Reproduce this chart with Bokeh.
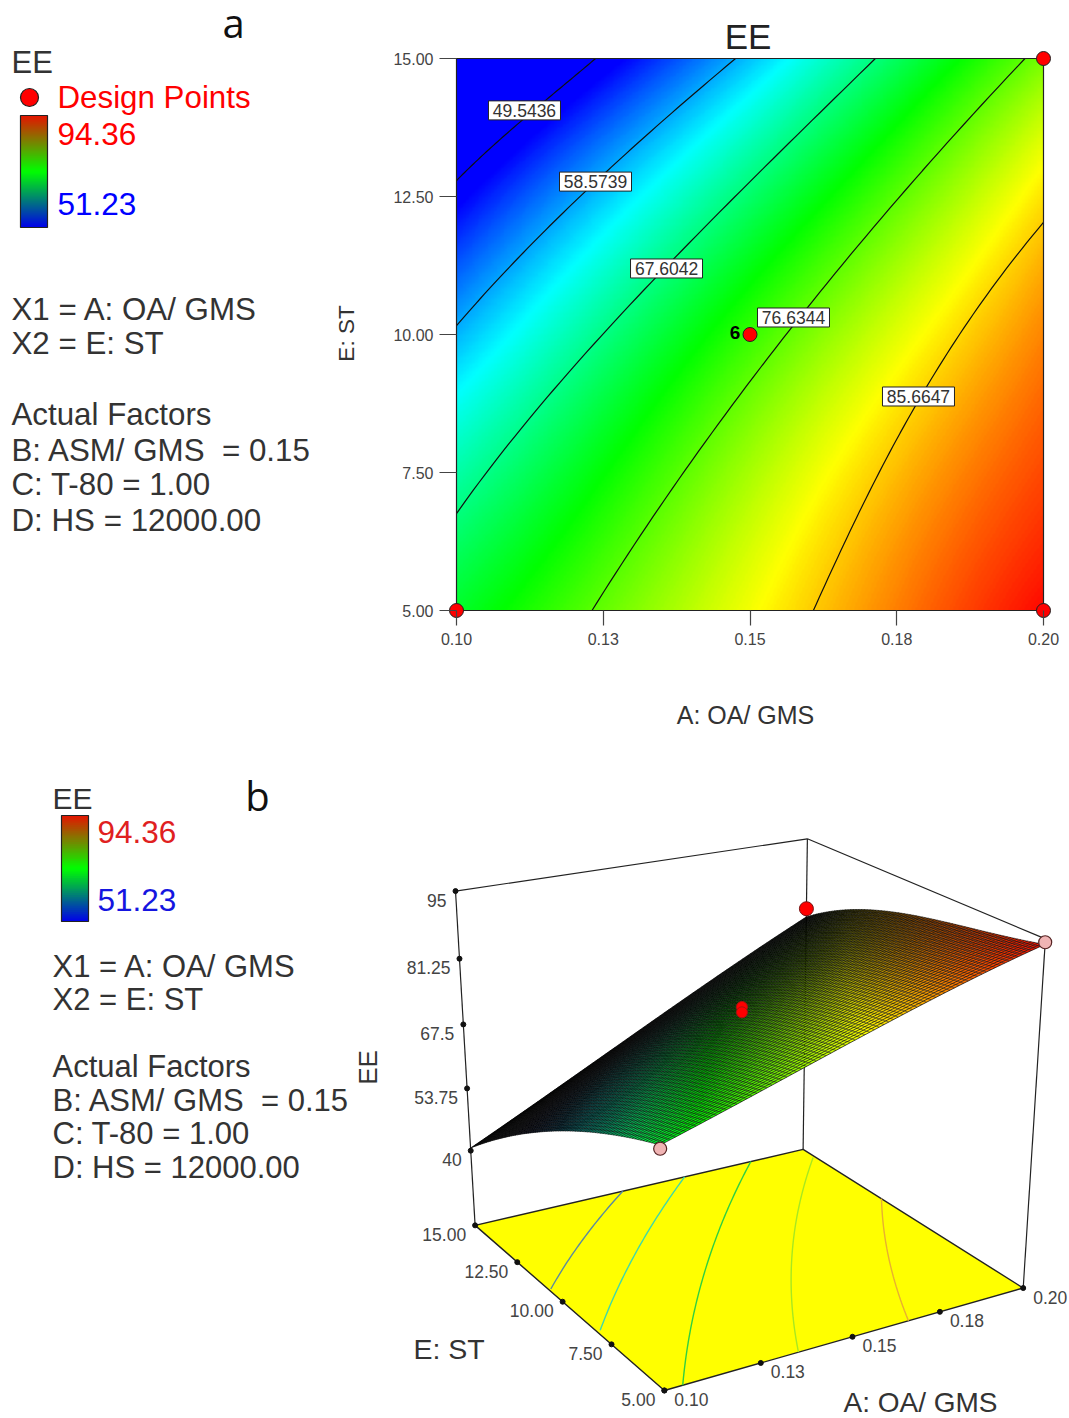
import numpy as np
from bokeh.core.properties import value
from bokeh.embed import file_html
from bokeh.layouts import column, row
from bokeh.models import FixedTicker, LinearColorMapper, Range1d
from bokeh.plotting import figure
from bokeh.resources import INLINE

FONT = value("Liberation Sans")
TXT = "#333333"

# ---- data -----------------------------------------------------------------
a_ticks = [0.10, 0.125, 0.15, 0.175, 0.20]
a_tick_labels = ["0.10", "0.13", "0.15", "0.18", "0.20"]
e_ticks = [5.0, 7.5, 10.0, 12.5, 15.0]
e_tick_labels = ["5.00", "7.50", "10.00", "12.50", "15.00"]
z_ticks = [40.0, 53.75, 67.5, 81.25, 95.0]
z_tick_labels = ["40", "53.75", "67.5", "81.25", "95"]
ee_low, ee_high = 51.23, 94.36

# response read at the tick crossings (rows: E = 5 ... 15, columns: A = 0.10 ... 0.20)
ee_row_e05 = [71.0, 77.0, 83.1, 89.0, 94.0]
ee_row_e07 = [65.6, 72.9, 79.5, 86.3, 91.0]
ee_row_e10 = [59.1, 67.2, 75.1, 82.6, 89.0]
ee_row_e12 = [50.5, 59.9, 68.2, 76.4, 84.5]
ee_row_e15 = [40.6, 50.0, 59.5, 69.0, 77.8]

contour_levels = ["49.5436", "58.5739", "67.6042", "76.6344", "85.6647"]
contour_a = [
    [.1, .10579, .11158, .11772, .12368],
    [.1, .11175, .12368, .13560, .14753],
    [.1, .1109, .12283, .13578, .15349, .17138],
    [.12317, .12845, .13646, .14497, .15349, .16371, .1799, .19693],
    [.16082, .16542, .17223, .1787, .18842, .2],
]
contour_e = [
    [12.79, 13.37, 13.93, 14.46, 15.0],
    [10.16, 11.52, 12.77, 13.91, 15.0],
    [6.76, 8.26, 9.80, 11.20, 13.15, 15.0],
    [5.0, 5.906, 7.174, 8.442, 9.62, 10.98, 13.06, 15.0],
    [5.0, 6.087, 7.536, 8.804, 10.43, 12.03],
]
label_a = [.11158, .12368, .13578, .15741, .1787]
label_e = [14.06, 12.77, 11.196, 10.308, 8.877]

floor_levels = [56.8, 64.0, 71.8, 79.5, 87.0]
floor_colors = ["#5a8aa0", "#40d8a8", "#30d040", "#a8e820", "#e8b030"]

design_a = [.10, .20, .20, .15]
design_e = [5.0, 5.0, 15.0, 10.0]

above_a = [.20, .15, .15]
above_e = [15.0, 10.0, 10.0]
above_z = [79.6, 76.5, 75.4]
below_a = [.10, .20]
below_e = [5.0, 5.0]
below_z = [70.3, 94.36]

left_lines_a = ["X1 = A: OA/ GMS", "X2 = E: ST", "Actual Factors",
                "B: ASM/ GMS \u00a0= 0.15", "C: T-80 = 1.00", "D: HS = 12000.00"]

# ---- helpers ---------------------------------------------------------------
ee_grid = np.array([ee_row_e05, ee_row_e07, ee_row_e10, ee_row_e12, ee_row_e15])
_aa, _ee = np.meshgrid((np.array(a_ticks) - .15) / .05, (np.array(e_ticks) - 10) / 5)
_V = np.polynomial.polynomial.polyvander2d(_aa.ravel(), _ee.ravel(), [3, 3])
_coef = np.linalg.lstsq(_V, ee_grid.ravel(), rcond=None)[0]


def surface(a, e):
    v = np.polynomial.polynomial.polyvander2d((a - .15) / .05, (e - 10) / 5, [3, 3])
    return v @ _coef


RAMP = np.array([[0, 0, 255], [0, 255, 255], [0, 255, 0], [255, 255, 0], [255, 0, 0]], float)


def rainbow(v):
    t = np.clip((v - ee_low) / (ee_high - ee_low), 0, 1) * 4
    return np.stack([np.interp(t, range(5), RAMP[:, i]) for i in range(3)], -1)


def to_hex(rgb):
    return ["#%02x%02x%02x" % tuple(int(c) for c in px) for px in rgb]


def text(p, x, y, s, size, color=TXT, align="left", baseline="middle", **kw):
    p.text(x=x, y=y, text=s, text_font=kw.pop("font", FONT), text_font_size=f"{size}px",
           text_color=color, text_align=align, text_baseline=baseline, **kw)


def colorbar(p, left, right, top, bottom):
    stops = np.array([[230, 20, 0], [0, 255, 0], [0, 0, 235]], float)
    n = 56
    edges = np.linspace(top, bottom, n + 1)
    t = (np.arange(n) + .5) / n * 2
    cols = np.stack([np.interp(t, range(3), stops[:, i]) for i in range(3)], -1)
    low_edges = np.minimum(edges[1:] + 1.5, bottom)
    p.quad(left=left, right=right, top=edges[:-1], bottom=low_edges, fill_color=to_hex(cols), line_color=None)
    p.quad(left=[left], right=[right], top=[top], bottom=[bottom], fill_color=None, line_color="#222222", line_width=1.2)


def smooth_line(ca, ce, n=60):
    """Read contour points joined by a low-order curve A(E)."""
    fit = np.polyfit(ce, ca, 3)
    ee = np.linspace(min(ce), max(ce), n)
    return np.clip(np.polyval(fit, ee), .1, .2), ee


ROW_H = 690
FRAME_TOP, FRAME_BOTTOM = 0, 620
LEFT_W = 375

# ---- panel a: legend column (frame shares the contour plot's top and bottom) --
side = figure(width=LEFT_W, height=ROW_H, x_range=Range1d(0, LEFT_W), y_range=Range1d(FRAME_BOTTOM, FRAME_TOP),
              x_axis_type=None, y_axis_type=None, toolbar_location=None, output_backend="svg",
              min_border_left=0, min_border_right=0, min_border_top=FRAME_TOP,
              min_border_bottom=ROW_H - FRAME_BOTTOM, outline_line_color=None)
side.grid.visible = False
text(side, [233], [22], ["a"], 40, "#111111", "center", "alphabetic", font=value("Open Sans"))
text(side, [11], [62], ["EE"], 31)
side.scatter([29], [97], size=18, fill_color="#ff0000", line_color="#222222", line_width=1.2)
text(side, [57], [97], ["Design Points"], 31.3, "#ff0000")
colorbar(side, 20, 47, 115, 227)
text(side, [57], [133], ["94.36"], 31.5, "#ff0000")
text(side, [57], [203], ["51.23"], 31.5, "#0000ff")
text(side, [11] * 6, [309, 343, 414, 450, 484, 520], left_lines_a, 31.3)
text(side, [346], [333], ["E: ST"], 22.5, align="center", angle=np.pi / 2)

# ---- panel a: contour plot --------------------------------------------------
px_a, px_e = 5870.0, 55.2     # pixels per unit
main = figure(width=1069 - LEFT_W, height=ROW_H, toolbar_location=None, output_backend="svg",
              x_range=Range1d(.1 - 10 / px_a, .2 + 10 / px_a),
              y_range=Range1d(5 - 10 / px_e, 15 + 58 / px_e),
              min_border_left=446 - LEFT_W, min_border_right=16, min_border_top=FRAME_TOP,
              min_border_bottom=ROW_H - FRAME_BOTTOM, outline_line_color=None)
main.grid.visible = False
ga, ge = np.meshgrid(np.linspace(.1, .2, 400), np.linspace(5, 15, 400))
gz = surface(ga.ravel(), ge.ravel()).reshape(ga.shape)
pal = to_hex(rainbow(np.linspace(ee_low, ee_high, 256)))
main.image(image=[gz], x=.1, y=5, dw=.1, dh=10,
           color_mapper=LinearColorMapper(palette=pal, low=ee_low, high=ee_high))
lines = [smooth_line(ca, ce) for ca, ce in zip(contour_a, contour_e)]
main.multi_line([list(l[0]) for l in lines], [list(l[1]) for l in lines], line_color="#111111", line_width=1.2)
main.quad(left=[.1], right=[.2], bottom=[5], top=[15], fill_color=None, line_color="#222222", line_width=1.2)
main.rect(label_a, label_e, width=72, height=19, width_units="screen", height_units="screen",
          fill_color="white", line_color="#222222", line_width=1)
text(main, label_a, label_e, contour_levels, 17.5, "#333333", "center")
main.scatter(design_a, design_e, size=14, fill_color="#ff0000", line_color="#222222", line_width=1)
text(main, [.15], [10], ["6"], 19, "#000000", "center", x_offset=-15, y_offset=-2, text_font_style="bold")
text(main, [.15], [15], ["EE"], 35, "#222222", "center", x_offset=-2, y_offset=-22)

for ax, ticks, labels in ((main.xaxis[0], a_ticks, a_tick_labels), (main.yaxis[0], e_ticks, e_tick_labels)):
    ax.ticker = FixedTicker(ticks=ticks)
    ax.major_label_overrides = dict(zip(ticks, labels))
    ax.axis_line_color = None
    ax.major_tick_line_color = "#444444"
    ax.major_tick_line_width = 1.2
    ax.minor_tick_line_color = None
    ax.major_tick_in = 10
    ax.major_label_text_font = "Liberation Sans"
    ax.major_label_text_font_size = "16px"
    ax.major_label_text_color = "#444444"
main.xaxis[0].major_tick_out = 5
main.xaxis[0].major_label_standoff = 7
main.yaxis[0].major_tick_out = 7
main.yaxis[0].major_label_standoff = 6

# ---- panel b: perspective camera calibrated on the box corners --------------
z_floor = 23.0
corner_world = np.array([[.1, 15, 95], [.1, 15, 67.5], [.1, 15, 40], [.1, 15, z_floor],
                         [.2, 15, 95], [.2, 15, z_floor],
                         [.2, 5, 95], [.2, 5, z_floor], [.1, 5, z_floor]])
corner_page = np.array([[454.6, 893.7], [462.5, 1021], [470, 1148], [475, 1226],
                        [807, 838], [803, 1150],
                        [1045.5, 938], [1021.6, 1287], [664.5, 1391]])


def unit(w):
    w = np.asarray(w, float)
    return np.stack([(w[..., 0] - .1) / .1, (w[..., 1] - 5) / 10, (w[..., 2] - z_floor) / (95 - z_floor)], -1)


_u = unit(corner_world)
_rows, _rhs = [], []
for (X, Y, Z), (pu, pv) in zip(_u, corner_page):
    _rows.append([X, Y, Z, 1, 0, 0, 0, 0, -pu * X, -pu * Y, -pu * Z]); _rhs.append(pu)
    _rows.append([0, 0, 0, 0, X, Y, Z, 1, -pv * X, -pv * Y, -pv * Z]); _rhs.append(pv)
_sol = np.linalg.lstsq(np.array(_rows), np.array(_rhs), rcond=None)[0]
CAM = np.append(_sol, 1).reshape(3, 4)


def project(a, e, z):
    a, e, z = np.broadcast_arrays(np.asarray(a, float), np.asarray(e, float), np.asarray(z, float))
    u = unit(np.stack([a, e, z], -1))
    h = np.concatenate([u, np.ones(u.shape[:-1] + (1,))], -1) @ CAM.T
    return h[..., 0] / h[..., 2], h[..., 1] / h[..., 2]


low = figure(width=1069, height=1418 - ROW_H, x_range=Range1d(0, 1069), y_range=Range1d(1418, ROW_H),
             x_axis_type=None, y_axis_type=None, toolbar_location=None, output_backend="svg",
             min_border=0, outline_line_color=None)
low.grid.visible = False
text(low, [745], [714], ["A: OA/ GMS"], 25, align="center")
text(low, [257], [795], ["b"], 40, "#111111", "center", "alphabetic", font=value("Open Sans"))
text(low, [52], [798], ["EE"], 30)
colorbar(low, 61, 88, 815, 921)
text(low, [97], [831], ["94.36"], 31.5, "#e02020")
text(low, [97], [899], ["51.23"], 31.5, "#1515e0")
text(low, [52] * 6, [966, 999, 1066, 1100, 1133, 1167], left_lines_a, 31)
text(low, [367], [1067], ["EE"], 26, angle=np.pi / 2, align="center")
text(low, [413], [1348], ["E: ST"], 28.5)
text(low, [843], [1402], ["A: OA/ GMS"], 28)

# box edges
for w0, w1 in (((.1, 15, 95), (.2, 15, 95)), ((.2, 15, 95), (.2, 5, 95)), ((.1, 15, 95), (.1, 15, z_floor)),
               ((.2, 15, 95), (.2, 15, z_floor)), ((.2, 5, 95), (.2, 5, z_floor))):
    xs, ys = project(*np.array([w0, w1]).T)
    low.line(xs, ys, line_color="#222222", line_width=1.2)

# floor
xs, ys = project([.1, .2, .2, .1], [15, 15, 5, 5], z_floor)
low.patch(xs, ys, fill_color="#ffff00", line_color="#222222", line_width=1.4)
scan_e = np.linspace(5, 15, 81)
scan_a = np.linspace(.1, .2, 201)
for level, col in zip(floor_levels, floor_colors):
    la, le = [], []
    for e in scan_e:
        zs = surface(scan_a, np.full_like(scan_a, e))
        if zs.min() <= level <= zs.max():
            la.append(float(np.interp(level, zs, scan_a)))
            le.append(float(e))
    la = np.clip(np.polyval(np.polyfit(le, la, 2), le), .1, .2)
    xs, ys = project(la, le, z_floor)
    low.line(xs, ys, line_color=col, line_width=1.4)

# floor ticks and labels
xs, ys = project(a_ticks, 5.0, z_floor)
low.scatter(xs, ys, size=5, color="#111111")
text(low, xs, ys, a_tick_labels, 17.5, "#444444", x_offset=10, y_offset=9)
xs, ys = project(.1, e_ticks, z_floor)
low.scatter(xs, ys, size=5, color="#111111")
text(low, xs, ys, e_tick_labels, 17.5, "#444444", "right", x_offset=-9, y_offset=9)
xs, ys = project(.1, 15.0, z_ticks)
low.scatter(xs, ys, size=5, color="#111111")
text(low, xs, ys, z_tick_labels, 17.5, "#444444", "right", x_offset=-9, y_offset=9)

# points below the surface
xs, ys = project(below_a, below_e, below_z)

# surface mesh
n = 80
sa = np.linspace(.1, .2, n + 1)
se = np.linspace(5, 15, n + 1)
ma, me = np.meshgrid(sa, se)
mz = surface(ma.ravel(), me.ravel()).reshape(ma.shape)
mx, my = project(ma, me, mz)
pxs, pys, cols = [], [], []
for j in range(n - 1, -1, -1):
    for i in range(n):
        pxs.append([mx[j, i], mx[j, i + 1], mx[j + 1, i + 1], mx[j + 1, i]])
        pys.append([my[j, i], my[j, i + 1], my[j + 1, i + 1], my[j + 1, i]])
        ea = (ma[j, i] + ma[j, i + 1]) / 2
        ec = (me[j, i] + me[j + 1, i]) / 2
        val = surface(np.array([ea]), np.array([ec]))
        shade = np.clip((15 - ec) / 10, .04, 1) ** 1.1 * np.clip((val[0] - 48) / 20, .12, 1)
        cols.append(rainbow(val)[0] * shade)
low.patches(pxs, pys, fill_color=to_hex(cols), line_color=None)
low.multi_line([list(r) for r in mx], [list(r) for r in my], line_color="#000000", line_width=.7)
low.multi_line([list(r) for r in mx.T], [list(r) for r in my.T], line_color="#000000", line_width=.5)

low.scatter(xs, ys, size=13, fill_color="#f0b4b4", line_color="#552222", line_width=1.2)
xs, ys = project(above_a, above_e, above_z)
low.scatter(xs[:1], ys[:1], size=14, fill_color="#ff0000", line_color="#771111", line_width=1)
low.scatter(xs[1:], ys[1:], size=11, fill_color="#ff0000", line_color="#aa1111", line_width=1)

page = column(row(side, main, spacing=0), low, spacing=0)
open("out.html", "w").write(file_html(page, INLINE))
